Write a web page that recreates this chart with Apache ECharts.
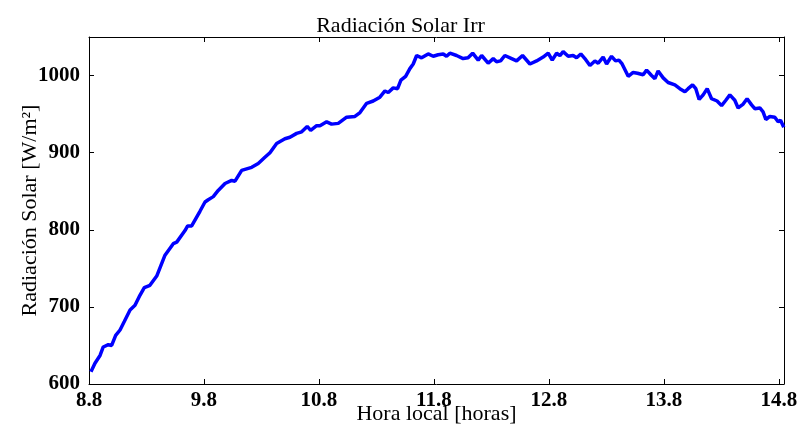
<!DOCTYPE html>
<html>
<head>
<meta charset="utf-8">
<script src="https://cdn.jsdelivr.net/npm/echarts@6/dist/echarts.min.js"></script>
<style>
  html, body { margin: 0; padding: 0; background: #fff; }
  #chart { width: 801px; height: 428px; }
</style>
</head>
<body>
<div id="chart"></div>
<script>
// hora local [h]
var hours = [
  8.817, 8.852, 8.896, 8.924, 8.968, 8.997, 9.032, 9.070, 9.084, 9.107,
  9.157, 9.200, 9.243, 9.281, 9.330, 9.389, 9.461, 9.533, 9.563, 9.635,
  9.658, 9.693, 9.765, 9.809, 9.837, 9.881, 9.924, 9.983, 10.041, 10.070,
  10.128, 10.171, 10.215, 10.272, 10.330, 10.374, 10.432, 10.504, 10.548, 10.606,
  10.650, 10.698, 10.728, 10.780, 10.809, 10.867, 10.910, 10.968, 11.041, 11.113,
  11.157, 11.215, 11.272, 11.330, 11.374, 11.403, 11.446, 11.484, 11.513, 11.554,
  11.591, 11.620, 11.650, 11.693, 11.750, 11.794, 11.837, 11.881, 11.910, 11.939,
  11.997, 12.054, 12.097, 12.137, 12.185, 12.215, 12.272, 12.316, 12.345, 12.380,
  12.417, 12.476, 12.519, 12.571, 12.635, 12.693, 12.750, 12.794, 12.829, 12.867,
  12.896, 12.924, 12.968, 13.011, 13.041, 13.078, 13.113, 13.157, 13.200, 13.229,
  13.272, 13.302, 13.345, 13.380, 13.409, 13.437, 13.490, 13.533, 13.571, 13.620,
  13.650, 13.693, 13.722, 13.750, 13.794, 13.837, 13.852, 13.896, 13.939, 13.983,
  14.011, 14.050, 14.078, 14.107, 14.142, 14.177, 14.215, 14.263, 14.302, 14.339,
  14.374, 14.417, 14.446, 14.490, 14.524, 14.563, 14.591, 14.635, 14.663, 14.687,
  14.722, 14.765, 14.794, 14.815, 14.843
];

// radiacion solar [W/m2]
var irradiance = [
  616, 627, 637, 648, 651, 650, 663, 670, 669, 681,
  696, 702, 715, 725, 728, 740, 767, 782, 784, 799,
  805, 805, 824, 836, 839, 843, 851, 860, 864, 863,
  877, 879, 881, 886, 894, 900, 912, 918, 920, 925,
  927, 934, 929, 935, 935, 940, 937, 938, 946, 947,
  952, 964, 967, 972, 980, 978, 984, 983, 994, 999,
  1009, 1015, 1026, 1023, 1028, 1025, 1027, 1028, 1025, 1029,
  1026, 1022, 1023, 1029, 1020, 1026, 1016, 1022, 1018, 1019,
  1026, 1022, 1019, 1026, 1015, 1019, 1024, 1029, 1020, 1029,
  1026, 1031, 1025, 1026, 1023, 1028, 1022, 1013, 1019, 1016,
  1024, 1015, 1025, 1019, 1020, 1015, 999, 1004, 1003, 1001,
  1007, 1000, 996, 1006, 997, 991, 992, 988, 983, 979,
  983, 988, 983, 969, 975, 983, 970, 967, 961, 968,
  975, 968, 958, 963, 970, 962, 957, 958, 953, 943,
  947, 946, 940, 942, 933
];

var xMin = 8.8, xMax = 14.845, xStep = 1;
var yMin = 600, yMax = 1050, yStep = 100;

var serie = [];
for (var i = 0; i < hours.length; i++) {
    serie.push([hours[i], irradiance[i]]);
}

var fuente = 'Liberation Serif';
var negro = '#000';

function ejeX(pos, conEtiquetas) {
    return {
        type: 'value', position: pos, min: xMin, max: xMax, interval: xStep,
        name: conEtiquetas ? 'Hora local [horas]' : '',
        nameLocation: 'middle', nameGap: 19, nameMoveOverlap: false,
        nameTextStyle: { fontFamily: fuente, fontSize: 22, color: negro },
        axisLine: { show: true, onZero: false, lineStyle: { color: negro, width: 1 } },
        axisTick: { show: true, inside: true, length: 5, lineStyle: { color: negro } },
        axisLabel: {
            show: conEtiquetas, showMaxLabel: false, margin: 6,
            fontFamily: fuente, fontSize: 21, fontWeight: 'bold', color: negro,
            formatter: function (v) { return v.toFixed(1); }
        },
        splitLine: { show: false }
    };
}

function ejeY(pos, conEtiquetas) {
    return {
        type: 'value', position: pos, min: yMin, max: yMax, interval: yStep,
        name: conEtiquetas ? 'Radiación Solar [W/m²]' : '',
        nameLocation: 'middle', nameGap: 48, nameRotate: 90, nameMoveOverlap: false,
        nameTextStyle: { fontFamily: fuente, fontSize: 22, color: negro },
        axisLine: { show: true, onZero: false, lineStyle: { color: negro, width: 1 } },
        axisTick: { show: true, inside: true, length: 5, lineStyle: { color: negro } },
        axisLabel: {
            show: conEtiquetas, showMaxLabel: false, margin: 9,
            fontFamily: fuente, fontSize: 21, fontWeight: 'bold', color: negro,
            formatter: function (v) { return String(v); }
        },
        splitLine: { show: false }
    };
}

var chart = echarts.init(document.getElementById('chart'), null, { renderer: 'canvas' });
chart.setOption({
    animation: false,
    backgroundColor: '#fff',
    title: {
        text: 'Radiación Solar Irr', left: 'center', top: 10,
        textStyle: { fontFamily: fuente, fontSize: 22, fontWeight: 'normal', color: negro }
    },
    grid: { left: 89, right: 17, top: 37, bottom: 44, containLabel: false, outerBoundsMode: 'none' },
    xAxis: [ejeX('bottom', true), ejeX('top', false)],
    yAxis: [ejeY('left', true), ejeY('right', false)],
    series: [{
        type: 'line', xAxisIndex: 0, yAxisIndex: 0,
        data: serie, showSymbol: false,
        lineStyle: { color: '#0000ff', width: 3.5 }
    }]
});
</script>
</body>
</html>
